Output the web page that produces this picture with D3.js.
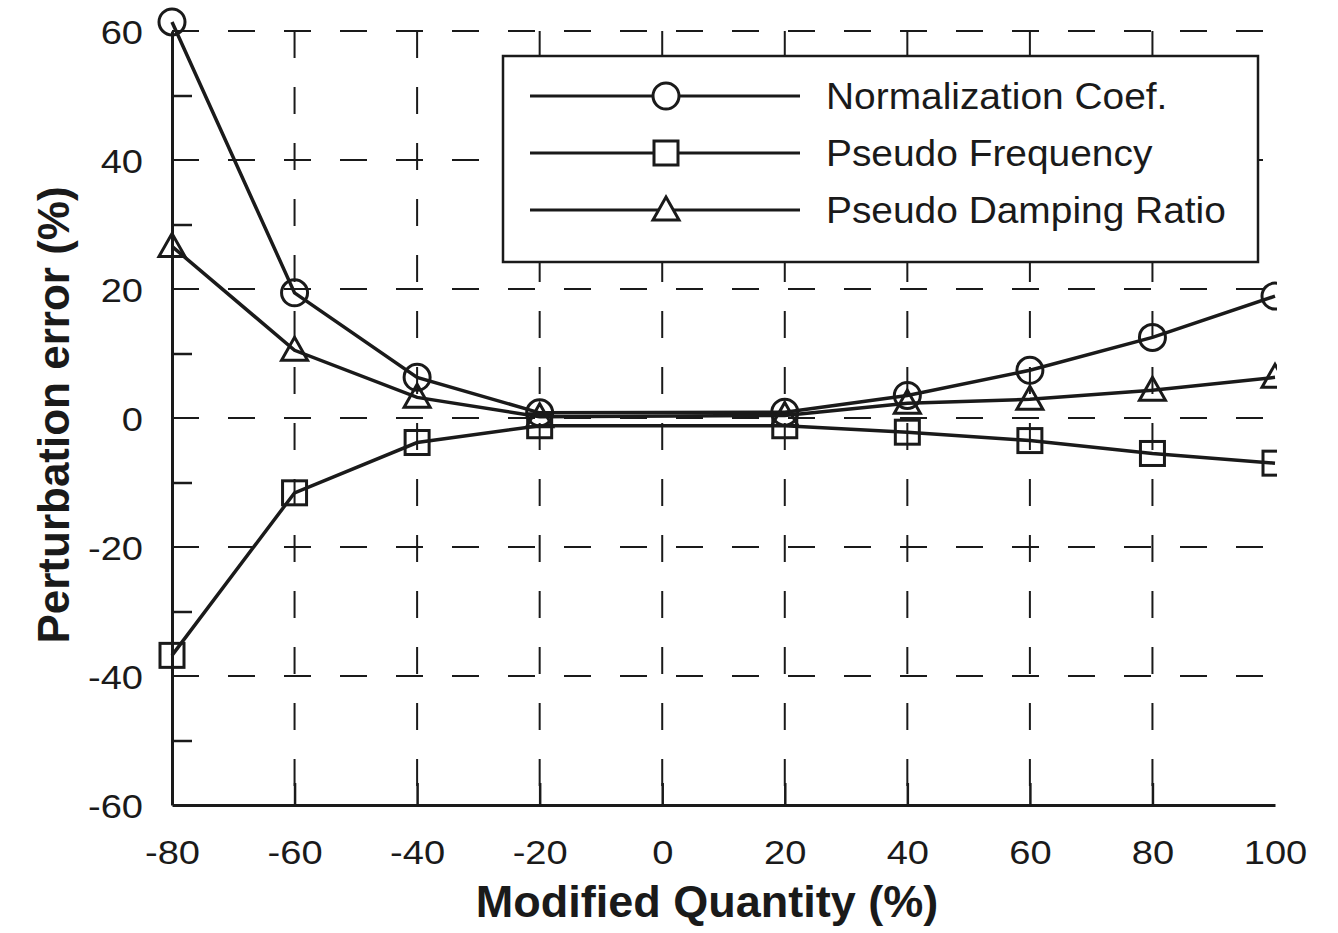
<!DOCTYPE html>
<html>
<head>
<meta charset="utf-8">
<script src="https://cdn.jsdelivr.net/npm/d3@7"></script>
<style>
  body { margin: 0; background: #fff; }
  svg { font-family: "Liberation Sans", Arial, sans-serif; }
</style>
</head>
<body>
<div id="chart"></div>
<script>
// data
const xValues = [-80, -60, -40, -20, 20, 40, 60, 80, 100];
const normCoef = [61.4, 19.4, 6.3, 0.8, 0.9, 3.5, 7.4, 12.5, 18.9];
const pseudoFreq = [-36.8, -11.6, -3.8, -1.2, -1.2, -2.2, -3.5, -5.5, -7.0];
const dampRatio = [26.6, 10.5, 3.2, 0.2, 0.4, 2.3, 2.9, 4.3, 6.3];
const seriesNames = ["Normalization Coef.", "Pseudo Frequency", "Pseudo Damping Ratio"];
const symbols = ["circle", "square", "triangle"];
const xTicks = [-80, -60, -40, -20, 0, 20, 40, 60, 80, 100];
const yTicks = [-60, -40, -20, 0, 20, 40, 60];
const yMinor = [-50, -30, -10, 10, 30, 50];

const width = 1338, height = 933;
const margin = { top: 31, right: 63, bottom: 128, left: 172 };

const svg = d3.select("#chart").append("svg")
  .attr("width", width)
  .attr("height", height);

const x = d3.scaleLinear()
  .domain([-80, 100])
  .range([margin.left, width - margin.right]);

const y = d3.scaleLinear()
  .domain([-60, 60])
  .range([height - margin.bottom, margin.top]);

const ink = "#1a1a1a";

// the scanned figure has wide letters, stretch the glyphs a bit
function stretch(sel, k) {
  sel.each(function() {
    const w = this.getComputedTextLength();
    d3.select(this).attr("textLength", w * k).attr("lengthAdjust", "spacingAndGlyphs");
  });
}

// grid
const grid = svg.append("g")
  .attr("stroke", ink)
  .attr("stroke-width", 2)
  .attr("stroke-dasharray", "27,29");

grid.selectAll(".hg")
  .data(yTicks.filter(d => d > -60))
  .join("line")
  .attr("x1", x(-80)).attr("x2", x(100) - 6)
  .attr("y1", d => y(d)).attr("y2", d => y(d));

grid.selectAll(".vg")
  .data(xTicks.filter(d => d > -80 && d < 100))
  .join("line")
  .attr("x1", d => x(d)).attr("x2", d => x(d))
  .attr("y1", y(60)).attr("y2", y(-60));

// axes
const axisX = svg.append("g")
  .attr("transform", `translate(0,${y(-60)})`)
  .call(d3.axisBottom(x).tickValues(xTicks).tickSizeInner(-22).tickSizeOuter(0).tickPadding(35));
axisX.selectAll(".tick line").filter(d => d === -80 || d === 100).remove();

const axisY = svg.append("g")
  .attr("transform", `translate(${x(-80)},0)`)
  .call(d3.axisLeft(y).tickValues(yTicks).tickSizeInner(0).tickSizeOuter(0).tickPadding(29));

const minorY = svg.append("g")
  .attr("transform", `translate(${x(-80)},0)`)
  .call(d3.axisLeft(y).tickValues(yMinor).tickSizeInner(-20).tickSizeOuter(0).tickFormat(""))
  .call(g => g.select(".domain").remove());

svg.selectAll(".domain").attr("stroke", ink).attr("stroke-width", 3);
svg.selectAll(".tick line").attr("stroke", ink).attr("stroke-width", 2.5);

[axisX, axisY].forEach(ax => {
  ax.selectAll(".tick text")
    .attr("fill", ink)
    .style("font-size", "34px")
    .text(d => String(d));
  stretch(ax.selectAll(".tick text"), 1.12);
});
axisY.selectAll(".tick text").attr("dy", "0.36em");

// axis titles
svg.append("text")
  .attr("x", 707)
  .attr("y", 917)
  .attr("text-anchor", "middle")
  .attr("fill", ink)
  .style("font-size", "45px")
  .style("font-weight", "bold")
  .text("Modified Quantity (%)");

svg.append("text")
  .attr("transform", `translate(69,${415}) rotate(-90)`)
  .attr("text-anchor", "middle")
  .attr("fill", ink)
  .style("font-size", "44px")
  .style("font-weight", "bold")
  .text("Perturbation error (%)");

// clip at x = 100
svg.append("clipPath").attr("id", "plotclip")
  .append("rect")
  .attr("x", 0).attr("y", 0)
  .attr("width", x(100) + 2).attr("height", height);

const series = [normCoef, pseudoFreq, dampRatio];

function drawMarker(g, type, cx, cy) {
  if (type === "circle") {
    g.append("circle").attr("cx", cx).attr("cy", cy).attr("r", 13);
  } else if (type === "square") {
    g.append("rect").attr("x", cx - 12).attr("y", cy - 12).attr("width", 24).attr("height", 24);
  } else {
    g.append("path").attr("d", `M${cx},${cy - 13}L${cx + 13},${cy + 10}L${cx - 13},${cy + 10}Z`);
  }
}

const line = d3.line().x(d => x(d[0])).y(d => y(d[1]));

const plot = svg.append("g").attr("clip-path", "url(#plotclip)");

series.forEach((vals, i) => {
  const pts = xValues.map((xv, j) => [xv, vals[j]]);
  plot.append("path")
    .datum(pts)
    .attr("fill", "none")
    .attr("stroke", ink)
    .attr("stroke-width", 3.5)
    .attr("d", line);
  const mg = plot.append("g")
    .attr("fill", "none")
    .attr("stroke", ink)
    .attr("stroke-width", 3);
  pts.forEach(p => drawMarker(mg, symbols[i], x(p[0]), y(p[1])));
});

// legend
const legend = svg.append("g");
legend.append("rect")
  .attr("x", 503).attr("y", 56)
  .attr("width", 755).attr("height", 206)
  .attr("fill", "#fff")
  .attr("stroke", ink)
  .attr("stroke-width", 2.5);

seriesNames.forEach((name, i) => {
  const ly = 96 + i * 57;
  legend.append("line")
    .attr("x1", 530).attr("x2", 800)
    .attr("y1", ly).attr("y2", ly)
    .attr("stroke", ink).attr("stroke-width", 3);
  const mg = legend.append("g")
    .attr("fill", "#fff")
    .attr("stroke", ink)
    .attr("stroke-width", 3);
  drawMarker(mg, symbols[i], 666, ly);
  const t = legend.append("text")
    .attr("x", 826).attr("y", ly)
    .attr("dy", "0.36em")
    .attr("fill", ink)
    .style("font-size", "36px")
    .text(name);
  stretch(t, 1.08);
});
</script>
</body>
</html>
